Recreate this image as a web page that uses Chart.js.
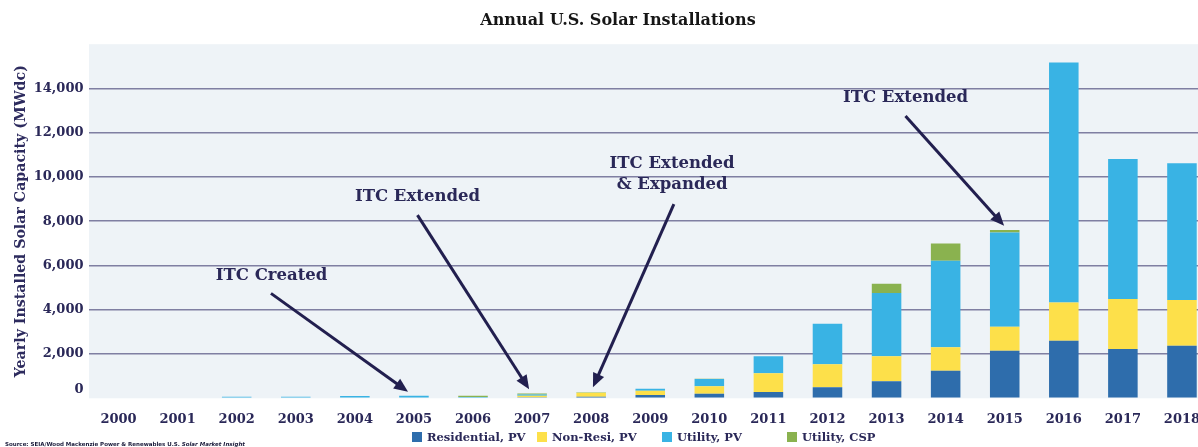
<!DOCTYPE html>
<html><head><meta charset="utf-8">
<script src="https://cdn.jsdelivr.net/npm/chart.js@4.4.1/dist/chart.umd.min.js"></script>
<style>
html,body{margin:0;padding:0;overflow:hidden;background:#fff;width:1198px;height:447px;}
#wrap{position:absolute;left:0;top:0;width:1236px;height:447px;}
#legend{position:absolute;left:412px;top:430px;display:flex;font:bold 11.5px 'DejaVu Serif',serif;color:#2a2858;line-height:14px;}
.item{width:125px;display:flex;align-items:center;white-space:nowrap;}
.sw{width:10px;height:10px;margin-right:5px;flex:none;}
</style></head><body>
<div id="wrap"><canvas id="c"></canvas></div>
<div id="legend"></div>
<script>
// ---- data ----
const years = ["2000","2001","2002","2003","2004","2005","2006","2007","2008","2009","2010","2011","2012","2013","2014","2015","2016","2017","2018"];
const residentialPV = [0,0,0,0,40,40,0,50,70,150,208,284,497,768,1246,2149,2600,2226,2375];
const nonResiPV     = [0,0,0,0,0,0,0,60,190,195,334,845,1038,1128,1057,1084,1734,2257,2063];
const utilityPV     = [0,0,70,70,60,70,60,60,30,85,330,767,1833,2858,3910,4262,10836,6335,6186];
const utilityCSP    = [0,0,0,0,0,0,60,50,0,0,10,0,0,420,785,104,0,0,0];
const seriesNames = ["Residential, PV","Non-Resi, PV","Utility, PV","Utility, CSP"];
const seriesColors = ["#2e6dac","#fde04a","#39b3e4","#8ab24f"];
const yTicks = [0,2000,4000,6000,8000,10000,12000,14000];

// ---- annotations (category index, value) ----
const annotationTexts = [["ITC Created"],["ITC Extended"],["ITC Extended","& Expanded"],["ITC Extended"]];
const annotationTextAt = [[2.59,5522],[5.06,9102],[9.37,10579],[13.32,13572]];
const arrowFrom = [[2.58,4740],[5.06,8276],[9.40,8772],[13.32,12760]];
const arrowTo   = [[4.90,298],[6.95,406],[8.03,497],[14.99,7793]];

const NAVY = "#2a2858";
const ARROW = "#221f4f";
const SERIF = "'DejaVu Serif', serif";

const bgPlugin = {
  id: 'bg',
  beforeDraw(chart) {
    const {ctx, chartArea: a} = chart;
    ctx.save();
    ctx.fillStyle = '#eef3f7';
    ctx.fillRect(a.left, a.top, a.right - a.left, a.bottom - a.top);
    ctx.restore();
  }
};

const annPlugin = {
  id: 'ann',
  afterDatasetsDraw(chart) {
    const {ctx} = chart;
    const xs = chart.scales.x, ys = chart.scales.y;
    ctx.save();
    for (let i = 0; i < arrowFrom.length; i++) {
      const x1 = xs.getPixelForValue(arrowFrom[i][0]), y1 = ys.getPixelForValue(arrowFrom[i][1]);
      const x2 = xs.getPixelForValue(arrowTo[i][0]), y2 = ys.getPixelForValue(arrowTo[i][1]);
      const ang = Math.atan2(y2 - y1, x2 - x1);
      const hl = 14, hw = 6;
      const bx = x2 - hl * Math.cos(ang), by = y2 - hl * Math.sin(ang);
      ctx.strokeStyle = ARROW; ctx.lineWidth = 3; ctx.lineCap = 'butt';
      ctx.beginPath(); ctx.moveTo(x1, y1); ctx.lineTo(bx + 2*Math.cos(ang), by + 2*Math.sin(ang)); ctx.stroke();
      ctx.fillStyle = ARROW;
      ctx.beginPath();
      ctx.moveTo(x2, y2);
      ctx.lineTo(bx + hw * Math.sin(ang), by - hw * Math.cos(ang));
      ctx.lineTo(bx - hw * Math.sin(ang), by + hw * Math.cos(ang));
      ctx.closePath(); ctx.fill();
    }
    ctx.font = "bold 16.5px " + SERIF;
    ctx.fillStyle = NAVY;
    ctx.textAlign = 'center'; ctx.textBaseline = 'middle';
    for (let i = 0; i < annotationTexts.length; i++) {
      const x = xs.getPixelForValue(annotationTextAt[i][0]);
      const y = ys.getPixelForValue(annotationTextAt[i][1]);
      annotationTexts[i].forEach((t, j) => ctx.fillText(t, x, y + j * 21));
    }
    ctx.restore();
  },
  afterDraw(chart) {
    const {ctx} = chart;
    const ys = chart.scales.y;
    ctx.save();
    ctx.font = "bold 13px " + SERIF;
    ctx.fillStyle = NAVY;
    ctx.textAlign = 'right'; ctx.textBaseline = 'middle';
    ctx.fillText("0", ys.right - 5.5, ys.getPixelForValue(0) - 9);
    ctx.textAlign = 'left'; ctx.textBaseline = 'alphabetic';
    ctx.fillStyle = '#1a1a3a';
    ctx.font = "bold 5.5px 'DejaVu Sans', sans-serif";
    const s1 = "Source: SEIA/Wood Mackenzie Power & Renewables U.S. ";
    ctx.fillText(s1, 5, 446);
    const w = ctx.measureText(s1).width;
    ctx.font = "italic bold 5.5px 'DejaVu Sans', sans-serif";
    ctx.fillText("Solar Market Insight", 5 + w, 446);
    ctx.restore();
  }
};

const datasets = [residentialPV, nonResiPV, utilityPV, utilityCSP].map((d, i) => ({
  label: seriesNames[i],
  data: d,
  backgroundColor: seriesColors[i],
  borderWidth: 0,
  categoryPercentage: 1.0,
  barPercentage: 0.5,
  stack: 's'
}));

new Chart(document.getElementById('c'), {
  type: 'bar',
  data: { labels: years, datasets },
  options: {
    responsive: true,
    maintainAspectRatio: false,
    animation: false,
    layout: { padding: 0 },
    plugins: {
      legend: { display: false },
      tooltip: { enabled: false },
      title: {
        display: true,
        text: 'Annual U.S. Solar Installations',
        color: '#161616',
        font: { family: SERIF, size: 16, weight: 'bold', lineHeight: 1.2 },
        padding: { top: 11, bottom: 14 }
      }
    },
    scales: {
      x: {
        stacked: true,
        grid: { display: false },
        border: { display: false },
        ticks: { color: NAVY, font: { family: SERIF, size: 13, weight: 'bold' }, padding: 6, maxRotation: 0, autoSkip: false },
        afterFit: s => { s.height = 48.7; }
      },
      y: {
        stacked: true,
        min: 0, max: 16000,
        afterBuildTicks: s => { s.ticks = yTicks.concat([16000]).map(v => ({value: v})); },
        grid: {
          drawTicks: false,
          color: c => (c.tick && (c.tick.value === 0 || c.tick.value === 16000)) ? 'rgba(0,0,0,0)' : '#7f7fa2',
          lineWidth: 1.6
        },
        border: { display: false },
        ticks: {
          color: NAVY,
          font: { family: SERIF, size: 13, weight: 'bold' },
          padding: 5.5,
          callback: v => (v === 0 || v === 16000) ? '' : v.toLocaleString('en-US')
        },
        title: {
          display: true,
          text: 'Yearly Installed Solar Capacity (MWdc)',
          color: '#2d2b5e',
          font: { family: SERIF, size: 14.2, weight: 'bold' },
          padding: { top: 12.5, bottom: 0 }
        },
        afterFit: s => { s.width = 89; }
      },
      yR: {
        position: 'right',
        display: true,
        grid: { display: false },
        border: { display: false },
        ticks: { display: false },
        afterFit: s => { s.width = 24.5; }
      }
    }
  },
  plugins: [bgPlugin, annPlugin]
});

const leg = document.getElementById('legend');
seriesNames.forEach((n, i) => {
  const it = document.createElement('div'); it.className = 'item';
  const sw = document.createElement('span'); sw.className = 'sw'; sw.style.background = seriesColors[i];
  const tx = document.createElement('span'); tx.textContent = n;
  it.appendChild(sw); it.appendChild(tx); leg.appendChild(it);
});
</script>
</body></html>
